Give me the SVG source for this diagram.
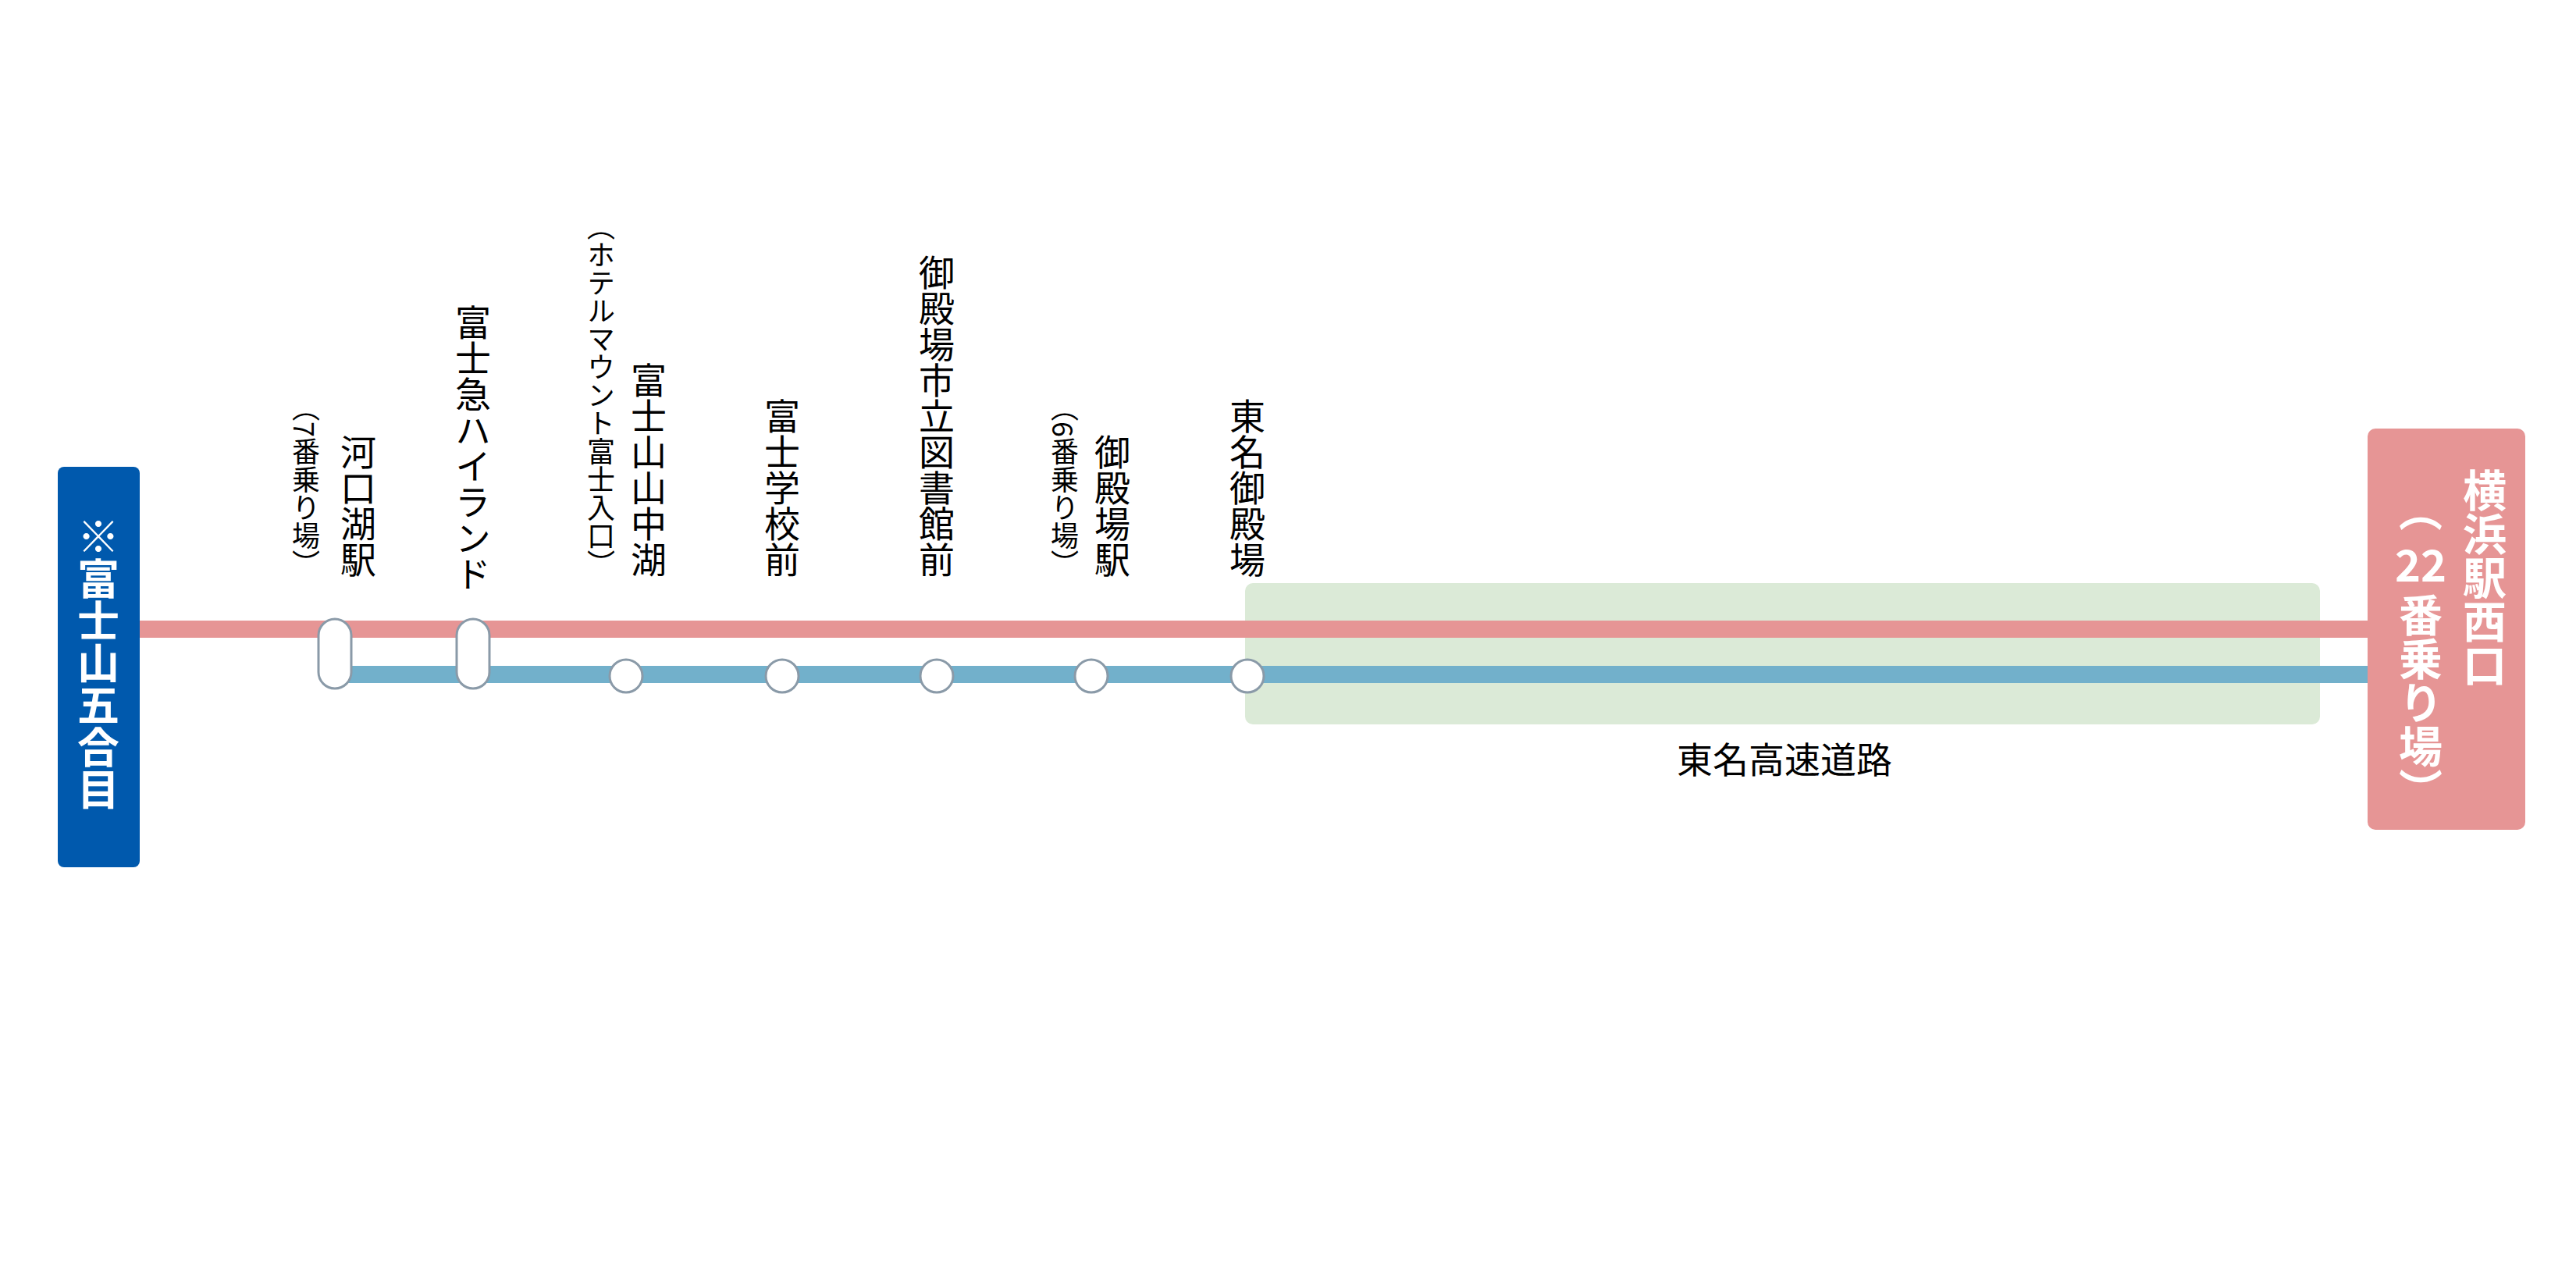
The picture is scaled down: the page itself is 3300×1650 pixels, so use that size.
<svg xmlns="http://www.w3.org/2000/svg" width="3300" height="1650" viewBox="0 0 3300 1650">
<style>
text{font-family:"Noto Sans CJK JP","Noto Sans CJK SC",sans-serif;}
.v{writing-mode:vertical-rl;text-anchor:end;fill:#000;}
.m{font-size:46px;}
.s{font-size:36px;}
.st{fill:#fff;stroke:#8a9aa8;stroke-width:3;}
.w{fill:#fff;font-weight:bold;}
</style>
<rect width="3300" height="1650" fill="#fff"/>
<g id="highway">
<rect x="1595" y="747" width="1377" height="181" rx="10" fill="#dbead7"/>
<text x="2286" y="990" font-size="46" text-anchor="middle">東名高速道路</text>
</g>
<g id="connectors">
<line x1="179" y1="806" x2="3034" y2="806" stroke="#e69595" stroke-width="22"/>
<line x1="430" y1="864" x2="3034" y2="864" stroke="#72b0cb" stroke-width="22"/>
</g>
<g id="start">
<rect x="74" y="598" width="105" height="513" rx="8" fill="#0059ad"/>
<text class="w" x="126" y="660" font-size="54" style="writing-mode:vertical-rl">※富士山五合目</text>
</g>
<g id="end">
<rect x="3033" y="549" width="202" height="514" rx="10" fill="#e69595"/>
<text class="w" x="3183" y="600" font-size="56" style="writing-mode:vertical-rl">横浜駅西口</text>
<text class="w" x="3101" y="625" font-size="56" style="writing-mode:vertical-rl">（</text>
<text class="w" x="3101" y="745" font-size="56" text-anchor="middle">22</text>
<text class="w" x="3101" y="760" font-size="56" style="writing-mode:vertical-rl">番乗り場）</text>
</g>
<g id="kawaguchiko">
<rect x="408" y="793" width="42" height="89" rx="21" class="st"/>
<text class="v m" x="459" y="740">河口湖駅</text>
<text class="v s" x="392" y="740">（7番乗り場）</text>
</g>
<g id="fujikyu">
<rect x="585" y="793" width="42" height="89" rx="21" class="st"/>
<text class="v m" x="606" y="758">富士急ハイランド</text>
</g>
<g id="yamanakako">
<circle cx="802" cy="866" r="21" class="st"/>
<text class="v m" x="831" y="740">富士山山中湖</text>
<text class="v s" x="770" y="740">（ホテルマウント富士入口）</text>
</g>
<g id="fujigakko">
<circle cx="1002" cy="866" r="21" class="st"/>
<text class="v m" x="1002" y="740">富士学校前</text>
</g>
<g id="library">
<circle cx="1200" cy="866" r="21" class="st"/>
<text class="v m" x="1200" y="740">御殿場市立図書館前</text>
</g>
<g id="gotemba">
<circle cx="1398" cy="866" r="21" class="st"/>
<text class="v m" x="1425" y="740">御殿場駅</text>
<text class="v s" x="1364" y="740">（6番乗り場）</text>
</g>
<g id="tomei-gotemba">
<circle cx="1598" cy="866" r="21" class="st"/>
<text class="v m" x="1598" y="740">東名御殿場</text>
</g>
</svg>
